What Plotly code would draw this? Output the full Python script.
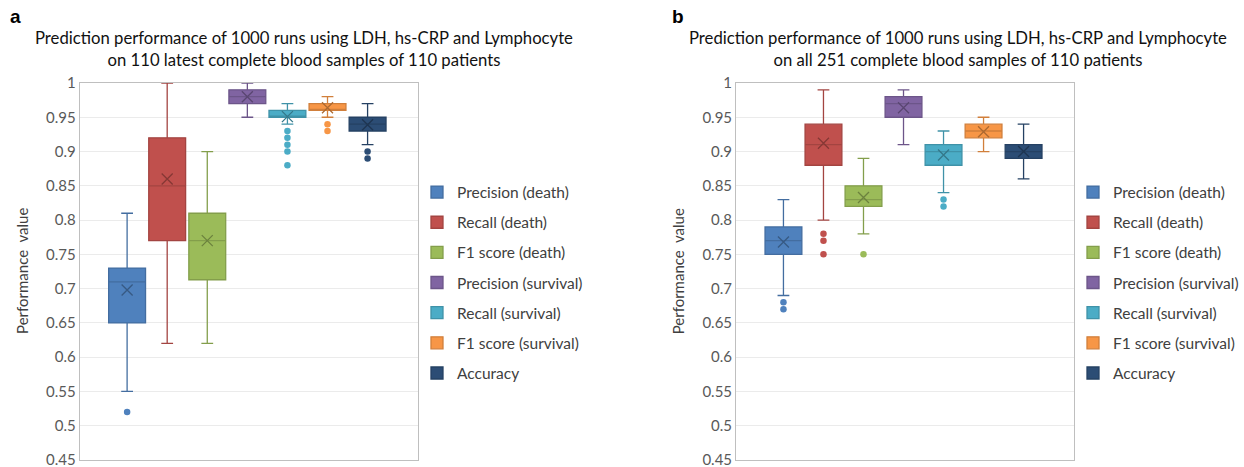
import plotly.graph_objects as go

# ---------------- data ----------------
names = ["Precision (death)", "Recall (death)", "F1 score (death)",
         "Precision (survival)", "Recall (survival)", "F1 score (survival)", "Accuracy"]
colors = ["#4F81BD", "#C0504D", "#9BBB59", "#8064A2", "#4BACC6", "#F79646", "#2C4D75"]

# Panel a: 110 latest complete blood samples
a_lower = [0.55, 0.62, 0.62, 0.95, 0.94, 0.95, 0.91]
a_q1 = [0.65, 0.77, 0.713, 0.97, 0.95, 0.96, 0.93]
a_median = [0.71, 0.85, 0.77, 0.98, 0.95, 0.96, 0.94]
a_q3 = [0.73, 0.92, 0.81, 0.99, 0.96, 0.97, 0.95]
a_upper = [0.81, 1.00, 0.90, 1.00, 0.97, 0.98, 0.97]
a_mean = [0.698, 0.86, 0.77, 0.98, 0.951, 0.964, 0.939]
a_outliers = [[0.52], [], [], [], [0.93, 0.92, 0.91, 0.90, 0.88], [0.94, 0.93], [0.90, 0.89]]

# Panel b: all 251 complete blood samples
b_lower = [0.69, 0.80, 0.78, 0.91, 0.84, 0.90, 0.86]
b_q1 = [0.75, 0.88, 0.82, 0.95, 0.88, 0.92, 0.89]
b_median = [0.77, 0.91, 0.83, 0.97, 0.90, 0.93, 0.90]
b_q3 = [0.79, 0.94, 0.85, 0.98, 0.91, 0.94, 0.91]
b_upper = [0.83, 0.99, 0.89, 0.99, 0.93, 0.95, 0.94]
b_mean = [0.768, 0.912, 0.833, 0.964, 0.895, 0.929, 0.90]
b_outliers = [[0.68, 0.67], [0.78, 0.77, 0.75], [0.75], [], [0.83, 0.82], [], []]

tick_vals = [0.45, 0.5, 0.55, 0.6, 0.65, 0.7, 0.75, 0.8, 0.85, 0.9, 0.95, 1.0]
tick_text = ["0.45", "0.5", "0.55", "0.6", "0.65", "0.7", "0.75", "0.8", "0.85", "0.9", "0.95", "1"]

title_a = "Prediction performance of 1000 runs using LDH, hs-CRP and Lymphocyte<br>on 110 latest complete blood samples of 110 patients"
title_b = "Prediction performance of 1000 runs using LDH, hs-CRP and Lymphocyte<br>on all 251 complete blood samples of 110 patients"

FONT = "Lato, 'Open Sans', sans-serif"
W, H = 1244, 467


def shade(hexcol, f):
    h = hexcol.lstrip("#")
    r, g, b = (int(h[i:i + 2], 16) for i in (0, 2, 4))
    return "rgb(%d,%d,%d)" % (int(r * f), int(g * f), int(b * f))


fig = go.Figure()


def add_panel(xa, ya, leg, lower, q1, med, q3, upper, mean, outl):
    for i, nm in enumerate(names):
        c = colors[i]
        grp = leg + str(i)
        fig.add_trace(go.Box(
            x=[i], q1=[q1[i]], median=[med[i]], q3=[q3[i]],
            lowerfence=[lower[i]], upperfence=[upper[i]],
            name=nm, legend=leg, legendgroup=grp,
            fillcolor=c, line=dict(color=shade(c, 0.85), width=1.3),
            whiskerwidth=0.32, width=0.92, boxpoints=False,
            xaxis=xa, yaxis=ya, hoverinfo="skip"))
        fig.add_trace(go.Scatter(
            x=[i], y=[mean[i]], mode="markers", legendgroup=grp, showlegend=False,
            marker=dict(symbol="x-thin", size=11, line=dict(color=shade(c, 0.7), width=1.3)),
            xaxis=xa, yaxis=ya, hoverinfo="skip"))
        if outl[i]:
            fig.add_trace(go.Scatter(
                x=[i] * len(outl[i]), y=outl[i], mode="markers", legendgroup=grp,
                showlegend=False, marker=dict(color=c, size=6.5),
                xaxis=xa, yaxis=ya, hoverinfo="skip"))


add_panel("x", "y", "legend", a_lower, a_q1, a_median, a_q3, a_upper, a_mean, a_outliers)
add_panel("x2", "y2", "legend2", b_lower, b_q1, b_median, b_q3, b_upper, b_mean, b_outliers)

y_dom = [7 / H, 384 / H]
xcommon = dict(range=[-1.18, 7.27], showticklabels=False, ticks="", showgrid=False,
               zeroline=False, showline=True, mirror=True, linecolor="#BFBFBF", linewidth=1.3,
               automargin=False)
ycommon = dict(range=[0.45, 1.0], tickvals=tick_vals, ticktext=tick_text, showgrid=True,
               gridcolor="#EBEBEB", gridwidth=1, zeroline=False, showline=True, mirror=True,
               linecolor="#BFBFBF", linewidth=1.3, ticks="", ticklen=0,
               ticklabeloverflow="allow",
               tickfont=dict(family=FONT, size=15, color="#595959"), automargin=False)

legcommon = dict(font=dict(family=FONT, size=15.5, color="#404040"), tracegroupgap=7,
                 bgcolor="rgba(0,0,0,0)", yanchor="middle", xanchor="left", y=(H - 283) / H,
                 itemclick=False, itemdoubleclick=False)

fig.update_layout(
    width=W, height=H, margin=dict(l=0, r=0, t=0, b=0),
    paper_bgcolor="white", plot_bgcolor="white", boxmode="overlay",
    xaxis=dict(domain=[80 / W, 419.5 / W], **xcommon),
    yaxis=dict(domain=y_dom, **ycommon),
    xaxis2=dict(domain=[738 / W, 1077 / W], anchor="y2", **xcommon),
    yaxis2=dict(domain=y_dom, anchor="x2", **ycommon),
    legend=dict(x=418 / W, **legcommon),
    legend2=dict(x=1076 / W, **legcommon),
    showlegend=True,
)

ann = []
for xc, title, letter, xl, ylab_x in [(305, title_a, "a", 8, 22), (960, title_b, "b", 672, 680)]:
    ann.append(dict(x=xc / W, y=(H - 49) / H, xref="paper", yref="paper", text=title,
                    showarrow=False, xanchor="center", yanchor="middle",
                    font=dict(family=FONT, size=16.7, color="#111111")))
    ann.append(dict(x=xl / W, y=(H - 16) / H, xref="paper", yref="paper", text="<b>" + letter + "</b>",
                    showarrow=False, xanchor="left", yanchor="middle",
                    font=dict(family="Liberation Sans, Arial, sans-serif", size=19, color="black")))
    ann.append(dict(x=ylab_x / W, y=(H - 271) / H, xref="paper", yref="paper",
                    text="Performance  value", textangle=-90, showarrow=False,
                    xanchor="center", yanchor="middle",
                    font=dict(family=FONT, size=15, color="#404040")))
fig.update_layout(annotations=ann)

fig.write_html("out.html", config={"displayModeBar": False},
               post_script="document.body.style.margin='0px';document.body.style.overflow='hidden';")
